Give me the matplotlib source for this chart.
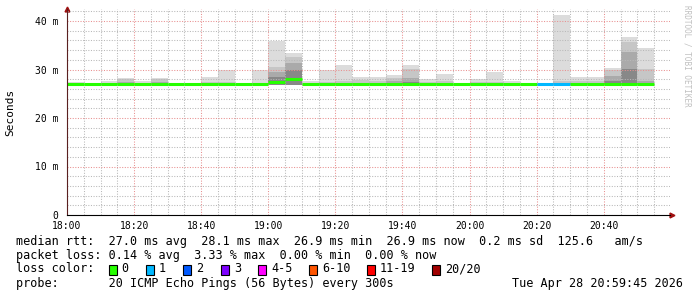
import numpy as np
import matplotlib
matplotlib.use("Agg")
import matplotlib.pyplot as plt
from matplotlib.patches import Rectangle

# 5-minute bins from 18:00 to 20:55 (minutes after 18:00)
bin_minutes = np.arange(0, 175, 5)

# median rtt per bin (ms)
rtt_median = [27.0, 27.0, 27.0, 27.0, 27.0, 27.0, 27.0, 27.0, 27.0, 27.0,
              27.0, 27.0, 27.5, 28.1, 27.0, 27.0, 27.0, 27.0, 27.0, 27.0,
              27.0, 27.0, 27.0, 27.0, 27.0, 27.0, 27.0, 27.0, 27.0, 27.0,
              27.0, 27.0, 27.0, 27.0, 27.0]
# lost pings per bin (out of 20)
loss_count = [0] * 28 + [1, 1] + [0] * 5

# smoke: lowest ping and upper edges of the shaded layers (ms)
ping_min = [26.8] * 35
smoke_top = [27.4, 27.1, 27.6, 28.2, 27.6, 28.2, 27.1, 27.1, 28.5, 29.8,
             27.1, 29.8, 35.8, 33.5, 27.6, 29.8, 30.9, 28.4, 28.4, 28.8,
             30.9, 28.0, 29.1, 27.1, 28.0, 29.5, 27.6, 27.1, 27.1, 41.3,
             28.5, 28.5, 30.4, 36.6, 34.5]
smoke_q1 = [27.2, 27.1, 27.3, 28.0, 27.3, 28.0, 27.1, 27.1, 27.5, 27.4,
            27.1, 27.3, 30.6, 32.6, 27.3, 27.4, 27.6, 27.8, 27.6, 28.3,
            30.2, 27.5, 27.6, 27.1, 27.4, 27.4, 27.3, 27.1, 27.1, 27.6,
            27.6, 27.6, 30.0, 35.7, 30.2]
smoke_q2 = [27.1, 27.1, 27.1, 27.4, 27.1, 27.4, 27.1, 27.1, 27.2, 27.2,
            27.1, 27.1, 29.5, 31.3, 27.1, 27.2, 27.3, 27.3, 27.3, 27.6,
            28.2, 27.2, 27.2, 27.1, 27.2, 27.2, 27.1, 27.1, 27.1, 27.3,
            27.3, 27.3, 28.7, 33.7, 27.6]
smoke_q3 = [27.0, 27.0, 27.0, 27.1, 27.0, 27.1, 27.0, 27.0, 27.0, 27.0,
            27.0, 27.0, 28.5, 29.9, 27.0, 27.0, 27.0, 27.0, 27.0, 27.2,
            27.5, 27.0, 27.0, 27.0, 27.0, 27.0, 27.0, 27.0, 27.0, 27.1,
            27.1, 27.1, 27.6, 30.2, 27.2]

x_tick_pos = [0, 20, 40, 60, 80, 100, 120, 140, 160]
x_tick_labels = ["18:00", "18:20", "18:40", "19:00", "19:20",
                 "19:40", "20:00", "20:20", "20:40"]
y_tick_pos = [0, 10, 20, 30, 40]
y_tick_labels = ["0", "10 m", "20 m", "30 m", "40 m"]

loss_labels = ["0", "1", "2", "3", "4-5", "6-10", "11-19", "20/20"]
loss_colors = ["#26ff00", "#00b8ff", "#0059ff", "#7e00ff",
               "#ff00ff", "#ff5500", "#ff0000", "#a10000"]

legend_lines = [
    "median rtt:  27.0 ms avg  28.1 ms max  26.9 ms min  26.9 ms now  0.2 ms sd  125.6   am/s",
    "packet loss: 0.14 % avg  3.33 % max  0.00 % min  0.00 % now",
    "loss color:",
    "probe:       20 ICMP Echo Pings (56 Bytes) every 300s",
]
stamp = "Tue Apr 28 20:59:45 2026"

mono = "DejaVu Sans Mono"
W, H = 697, 297

fig = plt.figure(figsize=(W / 100, H / 100), dpi=100)
ax = fig.add_axes([67 / W, 82 / H, 603 / W, 42.4 * 4.85 / H])

# smoke layers, lightest first
for top, col in [(smoke_top, "#dcdcdc"), (smoke_q1, "#c6c6c6"),
                 (smoke_q2, "#aaaaaa"), (smoke_q3, "#888888")]:
    ax.bar(bin_minutes, np.array(top) - np.array(ping_min), width=5,
           bottom=ping_min, align="edge", color=col, linewidth=0, zorder=1)

# median line coloured by loss
for start, med, lost in zip(bin_minutes, rtt_median, loss_count):
    idx = 0 if lost == 0 else min(lost, 3)
    ax.hlines(med, start, start + 5, colors=loss_colors[idx], lw=2.2, zorder=4)

ax.set_xlim(0, 179.75)
ax.set_ylim(0, 42.4)

ax.set_xticks(x_tick_pos)
ax.set_xticklabels(x_tick_labels, family=mono, fontsize=7)
ax.set_xticks(np.arange(0, 180, 5), minor=True)
ax.set_yticks(y_tick_pos)
ax.set_yticklabels(y_tick_labels, family=mono, fontsize=7)
ax.set_yticks(np.arange(0, 43, 2), minor=True)
ax.tick_params(which="both", length=0, pad=6)
ax.tick_params(axis="x", pad=4)

ax.grid(which="minor", color="#b8b8b8", linestyle=(0, (1, 1.5)), lw=0.75, zorder=3)
ax.grid(which="major", color="#e89090", linestyle=(0, (1, 1.5)), lw=0.75, zorder=3)
ax.set_axisbelow(False)

for s in ["top", "right"]:
    ax.spines[s].set_visible(False)
ax.spines["left"].set_color("#5a2020")
ax.spines["bottom"].set_color("black")
ax.spines["left"].set_zorder(5)
ax.spines["bottom"].set_zorder(5)
ax.plot([0], [1.0], marker="^", color="#a01010", ms=3.5, transform=ax.transAxes, clip_on=False)
ax.plot([1.003], [0], marker=">", color="#a01010", ms=3.5, transform=ax.transAxes, clip_on=False)

ax.set_ylabel("Seconds", family=mono, fontsize=8, labelpad=14)

fig.text(687 / W, 1 - 5 / H, "RRDTOOL / TOBI OETIKER", rotation=270, family=mono,
         fontsize=5.5, color="#c0c0c0", ha="center", va="top")

# legend text
line_y = [241, 255, 269, 284]
for txt, yy in zip(legend_lines, line_y):
    fig.text(16 / W, 1 - yy / H, txt, family=mono, fontsize=8.5, va="center")
fig.text(683 / W, 1 - 284 / H, stamp, family=mono, fontsize=8.5, va="center", ha="right")

box_x = [108.5, 146, 183, 221, 258, 309, 367, 432]
for bx, lab, col in zip(box_x, loss_labels, loss_colors):
    fig.add_artist(Rectangle((bx / W, 1 - 274.5 / H), 8 / W, 10 / H, transform=fig.transFigure,
                             facecolor=col, edgecolor="black", lw=0.8))
    fig.text((bx + 13) / W, 1 - 269 / H, lab, family=mono, fontsize=8.5, va="center")

fig.savefig("out.png", dpi=100)
